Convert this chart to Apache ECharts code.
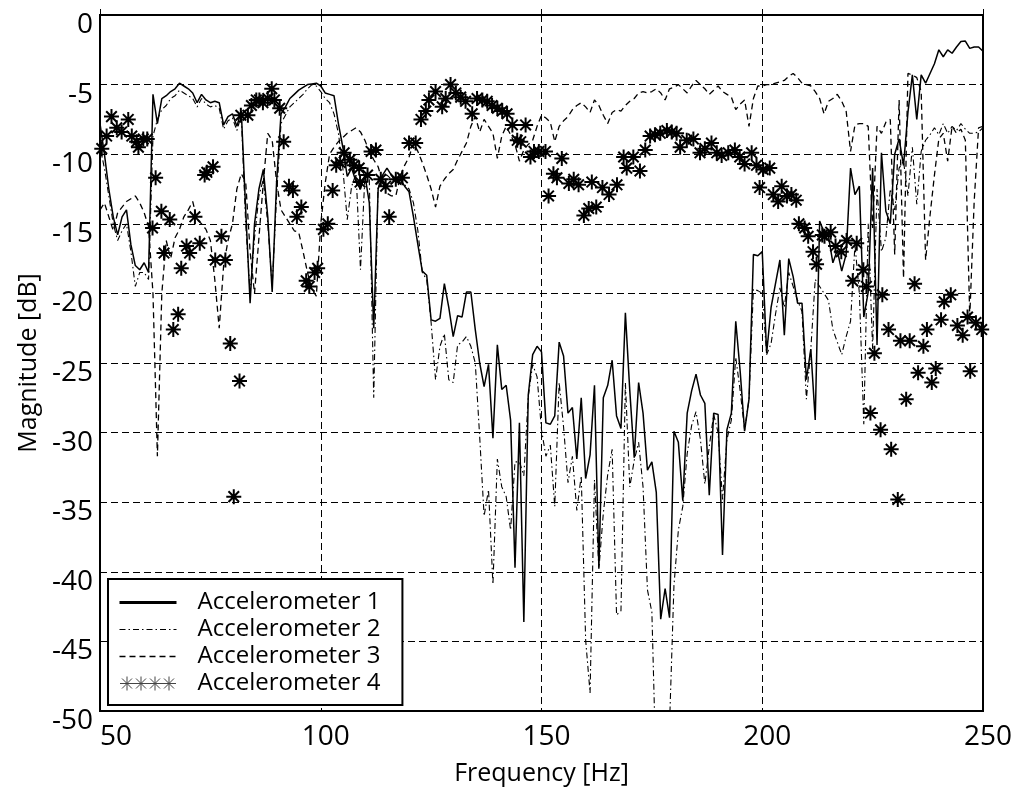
<!DOCTYPE html>
<html><head><meta charset="utf-8">
<script src="https://cdn.jsdelivr.net/npm/echarts@6/dist/echarts.min.js"></script>
<style>html,body{margin:0;padding:0;background:#fff}#c{width:1019px;height:791px}</style>
</head><body><div id="c"></div>
<script>
const freq = [50,51,52,53,54,55,56,57,58,59,60,61,62,63,64,65,66,67,68,69,70,71,72,73,74,75,76,77,78,79,80,81,82,83,84,85,86,87,88,89,90,91,92,93,94,95,96,97,98,99,100,101,102,103,104,105,106,107,108,109,110,111,112,113,114,115,116,117,118,119,120,121,122,123,124,125,126,127,128,129,130,131,132,133,134,135,136,137,138,139,140,141,142,143,144,145,146,147,148,149,150,151,152,153,154,155,156,157,158,159,160,161,162,163,164,165,166,167,168,169,170,171,172,173,174,175,176,177,178,179,180,181,182,183,184,185,186,187,188,189,190,191,192,193,194,195,196,197,198,199,200,201,202,203,204,205,206,207,208,209,210,211,212,213,214,215,216,217,218,219,220,221,222,223,224,225,226,227,228,229,230,231,232,233,234,235,236,237,238,239,240,241,242,243,244,245,246,247,248,249,250];

const acc1 = [
-7.8,-10.0,-12.5,-14.5,-15.8,-14.5,-14.0,-16.5,-18.0,-18.3,-17.8,-18.5,
-5.7,-7.8,-6.0,-5.8,-5.5,-5.3,-4.9,-5.1,-5.3,-5.6,-6.3,-5.7,-6.1,-6.3,-6.2,-6.3,-7.9,-7.3,-7.1,-8.0,-6.9,
-14.0,-20.7,-15.0,-12.5,-11.1,-14.5,-19.9,-12.0,-7.1,-6.6,-6.0,-5.7,-5.4,-5.2,-5.0,-4.95,-4.9,
-5.1,-5.6,-5.7,-5.8,-7.8,-9.5,-11.6,-11.0,-12.0,-12.5,-11.5,-13.5,-22.5,-12.5,-11.5,-11.0,-11.5,-12.0,-11.8,-12.3,
-12.7,-14.5,-16.5,-18.4,-18.7,-21.9,-22.0,-21.8,-19.3,-21.0,-23.1,-21.6,-21.7,-19.9,-19.9,-22.6,-25.0,-26.7,-25.1,-30.4,
-23.7,-26.9,-26.6,-29.1,-39.7,-29.3,-43.6,-27.3,-24.4,-23.8,
-24.2,-29.3,-29.4,-28.8,-23.5,-24.5,-28.6,-28.2,-31.9,-27.5,-33.3,-31.6,-26.6,-39.7,-27.5,-26.6,-24.8,-28.8,-29.7,-21.4,
-27.0,-31.8,-26.4,-28.6,-32.7,-32.1,-34.3,-43.4,-41.2,-43.3,-29.9,-30.7,-34.9,-28.6,-27.0,-25.8,-27.3,-27.9,-34.5,-28.6,
-28.7,-38.8,-29.8,-28.6,-22.0,-25.6,-29.9,-27.6,-17.2,-17.3,
-17.0,-24.3,-21.0,-19.3,-17.6,-23.0,-17.5,-18.8,-20.7,-20.7,-26.2,-24.0,-29.1,-14.8,-15.6,-15.9,-17.8,-16.9,-18.4,-17.2,
-11.0,-12.9,-12.3,-21.7,-19.9,-11.0,-23.7,-9.9,-14.1,-15.0,-10.0,-8.9,-10.8,-7.0,-4.3,-7.5,-4.3,-4.9,-4.2,-3.5,
-2.5,-3.0,-2.5,-2.75,-2.3,-1.9,-1.87,-2.4,-2.3,-2.3,-2.6];

const acc2 = [
-9.5,-11.0,-13.0,-15.0,-16.2,-15.5,-15.0,-17.0,-19.5,-18.5,-18.5,-19.0,
-8.7,-7.5,-6.8,-6.5,-6.0,-5.8,-5.4,-5.6,-5.8,-6.0,-6.6,-6.0,-6.4,-6.6,-6.5,-6.7,-8.2,-7.6,-7.4,-8.3,-7.2,
-15.0,-20.0,-16.0,-13.0,-11.8,-15.0,-19.5,-13.0,-7.8,-7.2,-6.6,-6.3,-6.0,-5.7,-5.3,-5.0,-5.1,
-5.5,-6.0,-6.3,-7.1,-8.5,-11.0,-14.7,-12.3,-11.4,-18.3,-11.6,-11.8,-27.5,-11.8,-11.6,-11.5,-11.8,-12.0,-12.0,-12.2,
-12.5,-13.5,-15.5,-18.5,-19.0,-22.1,-26.2,-23.8,-22.9,-26.2,-26.4,-23.7,-23.5,-23.1,-23.8,-25.0,-30.3,-36.0,-34.1,-40.9,
-31.9,-33.9,-34.6,-37.0,-32.1,-32.1,-33.1,-27.4,-25.1,-26.0,
-29.8,-31.7,-30.9,-35.3,-26.4,-29.6,-33.6,-31.7,-35.6,-33.1,-44.9,-48.7,-33.4,-39.8,-35.8,-33.0,-31.2,-43.1,-42.8,-26.4,
-33.9,-32.0,-30.7,-33.9,-41.3,-42.9,-55.0,-62.0,-62.0,-51.0,-41.0,-37.0,-35.3,-31.5,-29.5,-28.5,-30.5,-33.7,-31.0,-28.7,
-30.0,-34.8,-30.5,-29.1,-24.6,-27.0,-29.8,-27.6,-19.7,-19.8,
-20.0,-24.4,-23.6,-21.5,-19.6,-21.0,-18.5,-19.5,-20.5,-21.3,-27.6,-24.0,-19.0,-19.5,-20.0,-20.5,-22.6,-23.5,-24.4,-23.1,
-22.0,-16.5,-20.0,-29.4,-15.0,-24.0,-12.5,-17.0,-16.0,-12.5,-14.0,-11.0,-10.5,-13.0,-9.5,-13.6,-9.8,-9.0,-8.6,-8.1,
-8.6,-7.8,-8.5,-8.0,-8.3,-7.8,-8.2,-8.5,-8.5,-8.4,-8.1];

const acc3 = [
-14.0,-13.5,-14.5,-15.5,-14.2,-13.8,-13.4,-13.2,-13.0,-13.5,-14.2,-15.2,
-20.0,-31.7,-20.0,-16.2,-17.5,-16.0,-15.4,-14.5,-14.0,-13.4,-14.7,-15.0,-15.4,-16.2,-19.0,-22.5,-18.0,-16.2,-15.0,-12.5,-11.4,
-12.0,-17.0,-20.0,-16.0,-12.0,-8.5,-9.0,-12.0,-14.0,-14.5,-15.0,-15.5,-15.6,-17.0,-18.5,-19.7,-20.2,
-15.0,-12.1,-10.0,-9.5,-9.1,-8.8,-8.5,-8.3,-8.1,-8.4,-9.0,-9.8,-10.4,-10.9,-12.0,-12.8,-13.0,-13.0,-11.6,-10.8,
-10.2,-9.2,-9.8,-10.6,-11.5,-12.5,-13.8,-12.3,-11.8,-11.4,-11.1,-10.4,-9.8,-9.2,-8.0,-7.3,-8.4,-7.5,-8.0,-8.5,
-10.3,-8.7,-8.0,-8.6,-9.3,-10.5,-9.7,-9.3,-9.0,-8.0,
-7.2,-7.4,-7.7,-9.1,-8.0,-7.6,-7.3,-6.8,-6.5,-6.3,-6.6,-7.0,-6.1,-6.5,-7.2,-7.8,-7.0,-6.8,-6.9,-6.5,
-6.2,-6.0,-5.6,-5.5,-5.6,-5.5,-5.3,-5.6,-6.1,-5.3,-5.2,-5.0,-5.3,-5.6,-5.1,-4.7,-5.0,-5.3,-5.7,-5.4,
-5.1,-5.5,-5.7,-5.9,-6.8,-6.4,-6.1,-8.0,-6.0,-5.1,
-5.1,-5.0,-5.0,-4.9,-4.8,-4.7,-4.4,-4.2,-4.5,-4.9,-5.0,-5.1,-5.5,-6.0,-7.1,-6.2,-6.0,-5.7,-6.2,-6.9,
-9.8,-7.9,-7.8,-7.8,-8.0,-15.3,-8.0,-8.5,-7.7,-7.5,-17.2,-6.1,-18.9,-4.2,-4.3,-4.5,-5.5,-17.6,-14.4,-11.5,
-8.9,-8.5,-10.5,-8.0,-8.5,-8.2,-9.0,-21.7,-13.4,-8.1,-8.0];

const acc4Freq = [50.4,51.5,52.6,53.8,54.9,56.4,57.2,58.3,58.7,59.8,60.7,61.9,62.6,63.9,64.5,65.8,66.6,67.7,68.4,69.6,70.3,71.5,72.6,73.7,74.2,75.6,76.1,77.5,78.4,79.5,80.3,81.6,81.9,83.5,84.3,85.4,86.1,86.9,88.0,88.9,89.5,90.7,91.6,92.8,93.7,94.6,95.6,96.7,97.4,98.6,99.3,100.6,101.6,102.7,103.5,104.4,105.3,106.6,107.5,108.7,108.9,110.6,111.4,112.5,113.6,114.7,115.5,117.0,118.5,120.0,121.5,122.7,123.8,124.5,126.0,127.5,128.3,129.4,130.6,131.7,132.8,134.3,135.4,136.6,137.7,138.8,140.0,141.1,142.2,143.4,144.5,145.3,146.4,147.5,148.3,149.4,150.9,151.6,152.7,153.5,154.6,156.2,157.3,158.4,159.6,160.7,161.4,162.4,163.8,165.3,167.1,168.6,169.3,170.8,172.3,173.5,174.6,175.7,176.9,178.4,179.5,180.6,181.4,182.9,184.4,185.9,187.0,188.5,189.7,190.8,192.3,193.8,194.9,196.0,197.6,198.7,199.4,200.2,201.7,202.5,203.6,204.4,205.6,206.6,207.7,208.3,209.6,210.4,211.5,212.3,213.6,214.1,215.5,216.6,217.9,219.1,220.5,221.4,222.9,223.6,224.5,225.4,226.8,227.2,228.6,229.2,230.7,231.3,232.6,233.4,234.5,235.3,236.5,237.3,238.4,239.3,240.5,241.2,242.7,244.2,245.4,246.5,247.1,248.4,249.7];
const acc4Mag = [-9.6,-8.7,-7.3,-8.1,-8.4,-7.5,-8.7,-9.1,-9.5,-8.9,-8.9,-15.3,-11.7,-14.1,-17.1,-14.7,-22.6,-21.5,-18.2,-16.6,-17.1,-14.5,-16.4,-11.5,-11.3,-10.9,-17.6,-15.9,-17.6,-23.6,-34.6,-26.3,-7.2,-7.2,-6.5,-6.1,-6.1,-6.3,-6.0,-5.3,-6.1,-6.7,-9.1,-12.3,-12.6,-14.5,-13.8,-19.1,-19.5,-18.5,-18.2,-15.4,-15.0,-12.6,-10.8,-10.6,-9.9,-10.4,-10.8,-11.0,-12.0,-11.5,-9.8,-9.7,-11.8,-12.3,-14.5,-11.8,-11.7,-9.2,-9.2,-7.5,-6.9,-6.1,-5.5,-6.6,-6.0,-5.0,-5.6,-5.9,-6.2,-7.1,-6.0,-6.1,-6.2,-6.5,-6.7,-6.9,-7.1,-7.9,-9.0,-9.1,-7.9,-10.2,-9.8,-9.8,-9.8,-13.0,-11.4,-11.7,-10.3,-12.1,-11.8,-12.2,-14.4,-13.9,-12.0,-13.8,-12.4,-12.9,-12.2,-10.2,-11.0,-10.2,-11.2,-9.7,-8.7,-8.6,-8.5,-8.3,-8.4,-8.5,-9.5,-9.0,-8.9,-9.9,-9.6,-9.2,-9.9,-10.1,-9.9,-9.7,-10.2,-10.7,-9.9,-10.8,-12.4,-11.1,-11.0,-12.9,-13.4,-12.3,-13.0,-12.9,-13.3,-15.0,-15.3,-15.9,-17.0,-17.9,-15.8,-15.9,-15.6,-16.6,-17.0,-16.2,-19.1,-16.4,-18.3,-19.5,-28.6,-24.3,-29.8,-20.1,-22.6,-31.2,-34.8,-23.4,-27.6,-23.4,-19.3,-25.7,-23.8,-22.6,-26.4,-25.4,-21.9,-20.6,-20.1,-22.3,-23.0,-21.7,-25.6,-22.1,-22.6];

const seriesNames = ['Accelerometer 1','Accelerometer 2','Accelerometer 3','Accelerometer 4'];
const xTicks = [50,100,150,200,250];
const yTicks = [0,-5,-10,-15,-20,-25,-30,-35,-40,-45,-50];

const FONT = '"Open Sans", "Noto Sans", sans-serif';
const star = 'path://M0,-10L0,10M-10,0L10,0M-7.07,-7.07L7.07,7.07M-7.07,7.07L7.07,-7.07';
const legendStars = 'path://M0,7L56,7M7,0L7,14M0,7L14,7M2,2L12,12M2,12L12,2M21,0L21,14M16,2L26,12M16,12L26,2M35,0L35,14M30,2L40,12M30,12L40,2M49,0L49,14M44,2L54,12M44,12L54,2';

const pairs = (xs, ys) => xs.map((x, i) => [x, ys[i]]);

const chart = echarts.init(document.getElementById('c'), null, {renderer: 'canvas'});
chart.setOption({
  animation: false,
  backgroundColor: '#fff',
  grid: {left: 100, right: 36, top: 15, bottom: 79, show: true, borderColor: '#000', borderWidth: 2, backgroundColor: 'transparent'},
  xAxis: {
    type: 'value', min: xTicks[0], max: xTicks[xTicks.length-1], interval: 50,
    name: 'Frequency [Hz]', nameLocation: 'middle', nameGap: 50,
    nameTextStyle: {fontFamily: FONT, fontSize: 25, color: '#000'},
    axisLine: {show: true, lineStyle: {color: '#000', width: 2}},
    axisTick: {show: true, inside: true, length: 6, lineStyle: {color: '#000', width: 1}},
    axisLabel: {
      fontFamily: FONT, fontSize: 28, color: '#000', margin: 12, alignMinLabel: 'left',
      formatter: v => v === xTicks[0] ? '{m|' + v + '}' : '{n|' + v + '}',
      rich: {
        m: {fontFamily: FONT, fontSize: 28, color: '#000'},
        n: {fontFamily: FONT, fontSize: 28, color: '#000', padding: [0, 0, 0, 10]}
      }
    },
    splitLine: {show: true, lineStyle: {color: '#000', width: 1, type: [7, 4]}}
  },
  yAxis: {
    type: 'value', min: yTicks[yTicks.length-1], max: yTicks[0], interval: 5,
    name: 'Magnitude [dB]', nameLocation: 'middle', nameGap: 57,
    nameTextStyle: {fontFamily: FONT, fontSize: 25, color: '#000'},
    axisLine: {show: true, lineStyle: {color: '#000', width: 2}},
    axisTick: {show: true, inside: true, length: 6, lineStyle: {color: '#000', width: 1}},
    axisLabel: {fontFamily: FONT, fontSize: 28, color: '#000', margin: 7, verticalAlign: 'top', lineHeight: 20},
    splitLine: {show: true, lineStyle: {color: '#000', width: 1, type: [7, 4]}}
  },
  legend: {
    orient: 'vertical', left: 108, top: 579,
    backgroundColor: '#fff', borderColor: '#000', borderWidth: 2,
    padding: [10, 22, 8, 10], itemGap: 0, itemWidth: 57, itemHeight: 14,
    selectedMode: false,
    textStyle: {fontFamily: FONT, fontSize: 24, color: '#000', lineHeight: 27, padding: [0, 0, 0, 16]},
    data: [
      {name: seriesNames[0], itemStyle: {opacity: 0}, lineStyle: {width: 3}},
      {name: seriesNames[1], itemStyle: {opacity: 0}, lineStyle: {width: 1.2}},
      {name: seriesNames[2], itemStyle: {opacity: 0}, lineStyle: {width: 1.5}},
      {name: seriesNames[3], icon: legendStars, itemStyle: {color: 'rgba(0,0,0,0)', borderColor: '#444', borderWidth: 1, opacity: 1}}
    ]
  },
  series: [
    {name: seriesNames[0], type: 'line', data: pairs(freq, acc1), symbol: 'none', clip: true, z: 4,
     lineStyle: {color: '#000', width: 1.5}, itemStyle: {color: '#000'}, emphasis: {disabled: true}},
    {name: seriesNames[1], type: 'line', data: pairs(freq, acc2), symbol: 'none', clip: true, z: 3,
     lineStyle: {color: '#000', width: 1.1, type: [6, 3, 1.5, 3]}, itemStyle: {color: '#000'}, emphasis: {disabled: true}},
    {name: seriesNames[2], type: 'line', data: pairs(freq, acc3), symbol: 'none', clip: true, z: 3,
     lineStyle: {color: '#000', width: 1.3, type: [6, 4]}, itemStyle: {color: '#000'}, emphasis: {disabled: true}},
    {name: seriesNames[3], type: 'scatter', data: pairs(acc4Freq, acc4Mag), symbol: star, symbolSize: 15, clip: true, z: 5,
     itemStyle: {color: 'rgba(0,0,0,0)', borderColor: '#000', borderWidth: 2, opacity: 1}, emphasis: {disabled: true}}
  ]
});
</script>
</body></html>
